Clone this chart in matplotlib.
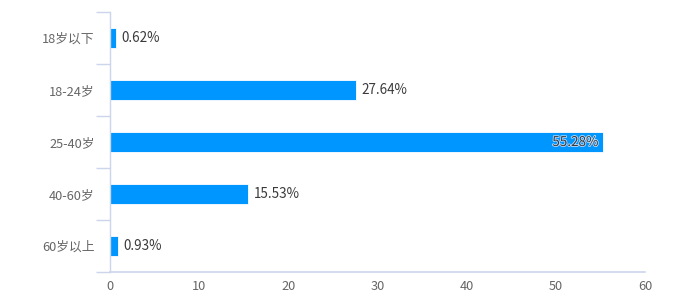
import numpy as np
import matplotlib.pyplot as plt
import matplotlib.patheffects as pe

plt.rcParams['font.family'] = ['Noto Sans CJK SC', 'DejaVu Sans']

# data
categories = ["18岁以下", "18-24岁", "25-40岁", "40-60岁", "60岁以上"]
values = [0.62, 27.64, 55.28, 15.53, 0.93]
xticks = [0, 10, 20, 30, 40, 50, 60]

barColor = "#0096ff"
axisColor = "#ccd6eb"

fig = plt.figure(figsize=(6.95, 3.07), dpi=100)
ax = fig.add_axes([110 / 695, 35 / 307, 535 / 695, 260 / 307])

y = np.arange(len(categories))
ax.barh(y, values, height=0.39, color=barColor, edgecolor="white", linewidth=0.6)

ax.set_xlim(0, 60)
ax.set_ylim(len(categories) - 0.5, -0.5)

# value labels
for i, v in enumerate(values):
    label = f"{v:.2f}%"
    if v > 50:
        ax.text(v - 0.5, i, label, ha="right", va="center", fontsize=9.7, color="#3a3a3a",
                path_effects=[pe.withStroke(linewidth=1.2, foreground="#b8dcff")])
    else:
        ax.text(v + 0.6, i, label, ha="left", va="center", fontsize=9.7, color="#3a3a3a")

# axes styling
for s in ["top", "right"]:
    ax.spines[s].set_visible(False)
ax.spines["left"].set_color(axisColor)
ax.spines["bottom"].set_color(axisColor)
ax.spines["left"].set_linewidth(1)
ax.spines["bottom"].set_linewidth(1.2)

ax.set_xticks(xticks)
ax.set_xticklabels([str(t) for t in xticks])
ax.tick_params(axis="x", length=0, pad=6, labelsize=9.2, labelcolor="#666666")

ax.set_yticks(y)
ax.set_yticklabels(categories)
ax.set_yticks(np.arange(-0.5, len(categories) + 0.5, 1), minor=True)
ax.tick_params(axis="y", which="major", length=0, pad=11, labelsize=9.2, labelcolor="#666666")
ax.tick_params(axis="y", which="minor", length=10, width=1, color=axisColor)

fig.savefig("out.png", dpi=100)
